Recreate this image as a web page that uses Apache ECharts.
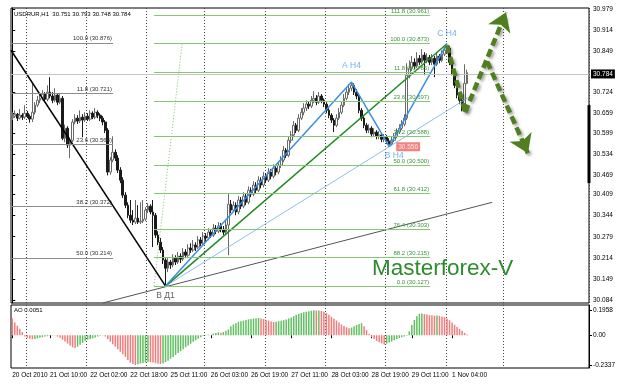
<!DOCTYPE html>
<html><head><meta charset="utf-8">
<script src="https://cdn.jsdelivr.net/npm/echarts@6/dist/echarts.min.js"></script>
<style>html,body{margin:0;padding:0;background:#fff}#c{width:624px;height:387px}</style>
</head><body><div id="c"></div>
<script>
// ---------- DATA ----------
const SLOT_COUNT = 230; // hourly slots visible on the chart (incl. empty right margin)
// H1 candles [open, close, low, high]
const candles = [
[30.645,30.650,30.638,30.662],[30.650,30.656,30.644,30.668],[30.656,30.644,30.635,30.660],[30.644,30.653,30.640,30.672],[30.653,30.647,30.638,30.659],
[30.647,30.659,30.641,30.684],[30.659,30.650,30.644,30.666],[30.650,30.641,30.630,30.655],[30.641,30.662,30.632,30.752],[30.662,30.684,30.655,30.693],
[30.684,30.699,30.678,30.712],[30.699,30.705,30.690,30.718],[30.705,30.718,30.699,30.730],[30.718,30.702,30.693,30.724],[30.702,30.724,30.696,30.745],
[30.724,30.712,30.705,30.770],[30.712,30.699,30.690,30.724],[30.699,30.715,30.693,30.736],[30.715,30.693,30.684,30.721],[30.693,30.705,30.687,30.718],
[30.705,30.582,30.576,30.712],[30.582,30.613,30.570,30.624],[30.613,30.561,30.552,30.619],[30.561,30.576,30.521,30.585],[30.576,30.632,30.570,30.641],
[30.632,30.644,30.625,30.656],[30.644,30.635,30.626,30.653],[30.635,30.647,30.629,30.668],[30.647,30.638,30.585,30.656],[30.638,30.650,30.632,30.662],
[30.650,30.641,30.635,30.659],[30.641,30.659,30.635,30.668],[30.659,30.647,30.641,30.665],[30.647,30.662,30.641,30.675],[30.662,30.653,30.644,30.668],
[30.653,30.644,30.635,30.659],[30.644,30.632,30.622,30.650],[30.632,30.607,30.598,30.638],[30.607,30.478,30.468,30.613],[30.478,30.515,30.470,30.524],
[30.515,30.539,30.508,30.588],[30.539,30.521,30.512,30.548],[30.521,30.484,30.475,30.530],[30.484,30.453,30.444,30.493],[30.453,30.407,30.398,30.462],
[30.407,30.376,30.367,30.416],[30.376,30.345,30.336,30.385],[30.345,30.330,30.321,30.392],[30.330,30.324,30.315,30.361],[30.324,30.336,30.318,30.392],
[30.336,30.324,30.318,30.376],[30.324,30.327,30.318,30.385],[30.327,30.333,30.321,30.392],[30.333,30.361,30.327,30.370],[30.361,30.373,30.352,30.382],
[30.373,30.355,30.348,30.379],[30.355,30.345,30.247,30.392],[30.345,30.284,30.275,30.352],[30.284,30.262,30.253,30.296],[30.262,30.238,30.229,30.275],
[30.238,30.207,30.195,30.247],[30.207,30.182,30.127,30.213],[30.182,30.201,30.170,30.213],[30.201,30.192,30.180,30.207],[30.192,30.213,30.185,30.225],
[30.213,30.201,30.192,30.222],[30.201,30.219,30.195,30.232],[30.219,30.210,30.198,30.228],[30.210,30.232,30.204,30.244],[30.232,30.222,30.213,30.241],
[30.222,30.244,30.216,30.256],[30.244,30.238,30.229,30.259],[30.238,30.253,30.232,30.269],[30.253,30.247,30.235,30.262],[30.247,30.269,30.241,30.281],
[30.269,30.259,30.250,30.278],[30.259,30.281,30.253,30.293],[30.281,30.275,30.262,30.290],[30.275,30.293,30.268,30.305],[30.293,30.284,30.275,30.302],
[30.284,30.305,30.278,30.318],[30.305,30.296,30.287,30.315],[30.296,30.312,30.290,30.324],[30.312,30.302,30.293,30.321],[30.302,30.293,30.284,30.312],
[30.293,30.315,30.287,30.327],[30.315,30.379,30.222,30.410],[30.379,30.361,30.352,30.392],[30.361,30.376,30.355,30.388],[30.376,30.355,30.345,30.385],
[30.355,30.392,30.348,30.404],[30.392,30.373,30.364,30.401],[30.373,30.404,30.367,30.416],[30.404,30.385,30.376,30.413],[30.385,30.422,30.379,30.434],
[30.422,30.410,30.401,30.431],[30.410,30.438,30.404,30.450],[30.438,30.422,30.413,30.447],[30.422,30.453,30.416,30.465],[30.453,30.438,30.428,30.462],
[30.438,30.465,30.431,30.478],[30.465,30.453,30.444,30.474],[30.453,30.478,30.447,30.490],[30.478,30.465,30.456,30.487],[30.465,30.490,30.459,30.502],
[30.490,30.478,30.468,30.496],[30.478,30.499,30.471,30.512],[30.499,30.515,30.490,30.527],[30.515,30.545,30.508,30.558],[30.545,30.530,30.521,30.552],
[30.530,30.576,30.524,30.588],[30.576,30.592,30.567,30.604],[30.592,30.622,30.585,30.635],[30.622,30.607,30.598,30.629],[30.607,30.644,30.601,30.656],
[30.644,30.662,30.638,30.675],[30.662,30.675,30.653,30.690],[30.675,30.687,30.666,30.699],[30.687,30.681,30.672,30.696],[30.681,30.699,30.675,30.712],
[30.699,30.705,30.690,30.727],[30.705,30.693,30.684,30.715],[30.693,30.712,30.687,30.724],[30.712,30.699,30.690,30.718],[30.699,30.687,30.678,30.705],
[30.687,30.668,30.659,30.693],[30.668,30.653,30.644,30.675],[30.653,30.638,30.629,30.659],[30.638,30.622,30.601,30.644],[30.622,30.644,30.616,30.656],
[30.644,30.662,30.638,30.675],[30.662,30.684,30.656,30.696],[30.684,30.705,30.678,30.718],[30.705,30.724,30.699,30.736],[30.724,30.736,30.715,30.748],
[30.736,30.745,30.727,30.755],[30.745,30.724,30.715,30.751],[30.724,30.712,30.702,30.733],[30.712,30.668,30.659,30.718],[30.668,30.644,30.635,30.675],
[30.644,30.622,30.613,30.650],[30.622,30.607,30.598,30.629],[30.607,30.613,30.598,30.625],[30.613,30.595,30.585,30.619],[30.595,30.601,30.588,30.613],
[30.601,30.588,30.579,30.607],[30.588,30.592,30.579,30.604],[30.592,30.579,30.570,30.598],[30.579,30.585,30.570,30.595],[30.585,30.573,30.564,30.592],
[30.573,30.564,30.556,30.582],[30.564,30.576,30.558,30.588],[30.576,30.588,30.570,30.598],[30.588,30.601,30.582,30.613],[30.601,30.613,30.595,30.625],
[30.613,30.625,30.607,30.638],[30.625,30.644,30.619,30.656],[30.644,30.776,30.638,30.813],[30.776,30.798,30.767,30.822],[30.798,30.816,30.789,30.835],
[30.816,30.804,30.795,30.828],[30.804,30.828,30.798,30.847],[30.828,30.816,30.807,30.838],[30.816,30.838,30.810,30.856],[30.838,30.822,30.776,30.847],
[30.822,30.831,30.813,30.844],[30.831,30.816,30.807,30.838],[30.816,30.828,30.807,30.841],[30.828,30.810,30.770,30.835],[30.810,30.835,30.804,30.847],
[30.835,30.822,30.813,30.841],[30.822,30.841,30.816,30.853],[30.841,30.853,30.835,30.865],[30.853,30.859,30.844,30.873],[30.859,30.816,30.807,30.865],
[30.816,30.785,30.776,30.822],[30.785,30.745,30.736,30.791],[30.745,30.715,30.705,30.755],[30.715,30.699,30.687,30.724],[30.699,30.675,30.665,30.705],
[30.675,30.751,30.669,30.810],[30.751,30.784,30.748,30.793]
];
// Awesome Oscillator values per bar
const aoValues = [
0.133,0.100,0.075,0.050,0.025,-0.010,-0.020,-0.028,-0.032,-0.030,
-0.025,-0.020,-0.015,-0.010,-0.008,-0.005,-0.003,-0.003,-0.010,-0.020,
-0.035,-0.050,-0.065,-0.080,-0.095,-0.100,-0.090,-0.075,-0.060,-0.045,
-0.035,-0.030,-0.025,-0.018,-0.010,-0.005,-0.002,-0.010,-0.030,-0.050,
-0.070,-0.090,-0.110,-0.130,-0.150,-0.170,-0.195,-0.215,-0.225,-0.2337,
-0.228,-0.222,-0.218,-0.214,-0.210,-0.212,-0.215,-0.220,-0.224,-0.226,
-0.222,-0.212,-0.200,-0.185,-0.170,-0.155,-0.140,-0.125,-0.110,-0.095,
-0.080,-0.066,-0.052,-0.040,-0.028,-0.016,-0.006,0.002,0.005,0.004,
0.012,0.018,0.022,0.020,0.025,0.035,0.045,0.070,0.085,0.095,
0.105,0.110,0.115,0.120,0.125,0.128,0.131,0.133,0.135,0.132,
0.128,0.122,0.115,0.108,0.104,0.106,0.110,0.114,0.118,0.124,
0.132,0.140,0.150,0.160,0.168,0.175,0.180,0.185,0.189,0.192,
0.1958,0.194,0.195,0.190,0.185,0.175,0.160,0.145,0.130,0.115,
0.100,0.085,0.072,0.062,0.055,0.060,0.070,0.080,0.088,0.094,
0.070,0.040,0.012,-0.015,-0.030,-0.045,-0.055,-0.064,-0.072,-0.066,
-0.058,-0.050,-0.040,-0.030,-0.022,-0.016,-0.010,-0.004,0.030,0.080,
0.120,0.150,0.168,0.170,0.166,0.162,0.158,0.156,0.153,0.155,
0.152,0.148,0.142,0.132,0.118,0.100,0.082,0.065,0.050,0.035,
0.018,0.0051
];
const priceTicks = [30.084,30.149,30.214,30.279,30.344,30.409,30.469,30.534,30.599,30.659,30.724,30.849,30.914,30.979];
const aoTicks = [0.1958, 0, -0.2337];
const timeTickIndex = [0,15,31,47,63,79,95,111,127,143,159,175];
const timeTickLabels = ['20 Oct 2010','21 Oct 10:00','22 Oct 02:00','22 Oct 18:00','25 Oct 11:00','26 Oct 03:00','26 Oct 19:00','27 Oct 11:00','28 Oct 03:00','28 Oct 19:00','29 Oct 11:00','1 Nov 04:00'];
const gridLineIndex = [6,30,54,77,101,125,149,173,196];
const currentPrice = 30.784;
const headerText = 'USDRUR,H1  30.751 30.793 30.748 30.784';
const aoLabel = 'AO 0.0051';
// Fibonacci (gray, down move)
const fibGrayNames = ['100.0','11.8','23.6','38.2','50.0'];
const fibGrayLevels = [30.876,30.721,30.564,30.372,30.214];
const fibGraySpan = [-0.5, 40.1];
// Fibonacci (green, up move)
const fibGreenNames = ['111.8','100.0','11.8','23.6','38.2','50.0','61.8','76.4','88.2','0.0'];
const fibGreenLevels = [30.961,30.873,30.785,30.697,30.588,30.500,30.412,30.303,30.215,30.127];
const fibGreenSpan = [56.4, 166.3];
const fibGreenDiag = [[56.4,30.127],[67.6,30.873]];
// wave points [bar, price]
const ptB = [61, 30.127];
const ptA = [135, 30.755];
const ptB2 = [150, 30.556];
const ptC = [173, 30.873];
const downTrend = [[-0.5,30.853], ptB];
const supportLine = [[36,30.075],[191,30.385]];
const channelLine = [ptB, [182,30.710]];
// forecast arrows
const arrowLeg1 = [[173,30.868],[180.2,30.662]];
const arrowLeg2 = [[180.2,30.662],[196.5,30.970]];
const arrowLeg3 = [[189,30.818],[205.2,30.536]];
const rangeBar = [[229.5,30.444],[229.5,30.684]];

// ---------- CHART ----------
const slots = Array.from({length: SLOT_COUNT}, (_, i) => String(i));
const FONT = 'Liberation Sans';
const vLines = {show:true, interval:(i)=>gridLineIndex.includes(i), lineStyle:{color:'#444', type:[1,2], width:1}};

const aoData = aoValues.map((v,i)=>({value:v, itemStyle:{color: (i>0 && v>aoValues[i-1]) ? '#62c062' : '#f07c7c'}}));

function lineSeries(data, color, width, type, z){
  return {type:'line', xAxisIndex:1, yAxisIndex:0, data, symbol:'none', silent:true, z: z||4,
    lineStyle:{color, width, type: type||'solid'}, clip:false};
}
function fibSeries(names, levels, span, lineColor, textColor){
  return {type:'line', xAxisIndex:1, yAxisIndex:0, data:[], z:1, silent:true,
    markLine:{silent:true, symbol:['none','none'], animation:false,
      lineStyle:{color:lineColor, width:1, type:'solid'},
      label:{show:true, position:'insideEndTop', formatter:'{b}', fontSize:6, fontFamily:FONT, color:textColor, distance:1},
      emphasis:{disabled:true},
      data: levels.map((v,k)=>[{name: names[k]+' ('+v.toFixed(3)+')', coord:[span[0], v]}, {coord:[span[1], v]}])
    }};
}
function note(pt, text, pos, dist, color, extra){
  return Object.assign({value: pt, label:{show:true, formatter:text, position:pos, distance:dist, color, fontSize:8.5, fontFamily:FONT}}, extra||{});
}

const option = {
  animation:false,
  backgroundColor:'#fff',
  textStyle:{fontFamily:FONT},
  grid:[
    {left:11, right:35, top:8, height:295, show:true, borderColor:'#000', borderWidth:1},
    {left:11, right:35, top:305, height:63, show:true, borderColor:'#000', borderWidth:1}
  ],
  xAxis:[
    {type:'category', gridIndex:0, data:slots, boundaryGap:true, axisLine:{show:false}, axisTick:{show:false}, axisLabel:{show:false}, splitLine:vLines},
    {type:'value', gridIndex:0, min:-0.5, max:SLOT_COUNT-0.5, show:false},
    {type:'category', gridIndex:1, data:slots, boundaryGap:true, axisLine:{show:false},
      axisTick:{show:true, alignWithLabel:true, interval:(i)=>timeTickIndex.includes(i), length:3, lineStyle:{color:'#000'}},
      axisLabel:{show:true, interval:(i)=>timeTickIndex.includes(i), align:'left', fontSize:6.5, color:'#000', margin:4,
        formatter:(v,i)=>{const k=timeTickIndex.indexOf(i); return k>=0?timeTickLabels[k]:'';}},
      splitLine:vLines}
  ],
  yAxis:[
    {type:'value', gridIndex:0, position:'right', min:30.075, max:30.983,
      axisLine:{show:true, lineStyle:{color:'#000'}},
      axisTick:{show:true, customValues:priceTicks, length:3, lineStyle:{color:'#000'}},
      axisLabel:{customValues:priceTicks, formatter:(v)=>v.toFixed(3), fontSize:6.5, color:'#000', margin:4},
      splitLine:{show:false}},
    {type:'value', gridIndex:1, position:'right', min:-0.2573, max:0.2374,
      axisLine:{show:true, lineStyle:{color:'#000'}},
      axisTick:{show:true, customValues:aoTicks, length:3, lineStyle:{color:'#000'}},
      axisLabel:{customValues:aoTicks, formatter:(v)=> Math.abs(v)<1e-9 ? '0.00' : v.toFixed(4), fontSize:6.5, color:'#000', margin:4},
      splitLine:{show:false}}
  ],
  series:[
    fibSeries(fibGrayNames, fibGrayLevels, fibGraySpan, '#8c8c8c', '#333'),
    fibSeries(fibGreenNames, fibGreenLevels, fibGreenSpan, '#86c776', '#3c963c'),
    {type:'candlestick', xAxisIndex:0, yAxisIndex:0, data:candles, barWidth:2.2, z:2,
      itemStyle:{color:'#ffffff', color0:'#1a1a1a', borderColor:'#6a6a6a', borderColor0:'#1a1a1a', borderWidth:1},
      markLine:{silent:true, symbol:['none','none'], animation:false,
        lineStyle:{color:'#c4c4c4', width:1, type:'solid'},
        label:{show:true, position:'end', formatter: currentPrice.toFixed(3), backgroundColor:'#000', color:'#fff', fontSize:6.5, padding:[1,2], distance:2},
        data:[{yAxis: currentPrice}]}},
    {type:'bar', xAxisIndex:2, yAxisIndex:1, data:aoData, barWidth:1.5, silent:true},
    lineSeries(fibGreenDiag, '#7cc26c', 1, [1,2], 3),
    lineSeries(supportLine, '#555555', 1),
    lineSeries(downTrend, '#000000', 1.5),
    lineSeries(channelLine, '#8dc0ee', 1),
    lineSeries([ptB, ptC], '#1f8a1f', 1.5),
    lineSeries([ptB, ptA, ptB2, ptC], '#3a8fe2', 1.5),
    lineSeries(rangeBar, '#000000', 3),
    {type:'line', xAxisIndex:1, yAxisIndex:0, data:[], z:6, silent:true,
      markLine:{silent:true, animation:false, symbol:['none','arrow'], symbolSize:18,
        lineStyle:{color:'#4f7f1f', width:4.5, type:[8,4], shadowBlur:3, shadowColor:'rgba(0,0,0,0.35)', shadowOffsetX:2, shadowOffsetY:2},
        itemStyle:{color:'#4f7f1f'},
        label:{show:false}, emphasis:{disabled:true},
        data:[
          [{coord:arrowLeg1[0], symbol:'none'},{coord:arrowLeg1[1], symbol:'none'}],
          [{coord:arrowLeg2[0], symbol:'none'},{coord:arrowLeg2[1], symbol:'arrow'}],
          [{coord:arrowLeg3[0], symbol:'none'},{coord:arrowLeg3[1], symbol:'arrow'}]
        ]}},
    {type:'scatter', xAxisIndex:1, yAxisIndex:0, symbolSize:0, silent:true, z:7, clip:false,
      data:[
        note(ptA, 'A H4', 'top', 12, '#4c9de6'),
        note(ptB2, 'B H4', 'bottom', 4, '#4c9de6', {label:{show:true, formatter:'B H4', position:'bottom', distance:4, offset:[5,0], color:'#4c9de6', fontSize:8.5, fontFamily:FONT}}),
        note(ptC, 'C H4', 'top', 6, '#4c9de6'),
        note(ptB, 'В Д1', 'bottom', 5, '#333'),
        note(ptB2, ptB2[1].toFixed(3), 'right', 7, '#fff', {label:{show:true, formatter:ptB2[1].toFixed(3), position:'right', distance:7, color:'#fff', backgroundColor:'#f06262', padding:[1,2], fontSize:6.5, fontFamily:FONT}})
      ]}
  ],
  graphic:[
    {type:'text', x:14, y:14, silent:true, style:{text:headerText, fill:'#000', fontSize:6, fontFamily:FONT, verticalAlign:'middle'}},
    {type:'text', x:14, y:310, silent:true, style:{text:aoLabel, fill:'#000', fontSize:6, fontFamily:FONT, verticalAlign:'middle'}},
    {type:'text', x:372, y:269, silent:true, z:10, style:{text:'Masterforex-V', fill:'#2e8b2e', fontSize:22.5, fontFamily:FONT, verticalAlign:'middle'}}
  ]
};
const chart = echarts.init(document.getElementById('c'), null, {renderer:'canvas'});
chart.setOption(option);
</script></body></html>
